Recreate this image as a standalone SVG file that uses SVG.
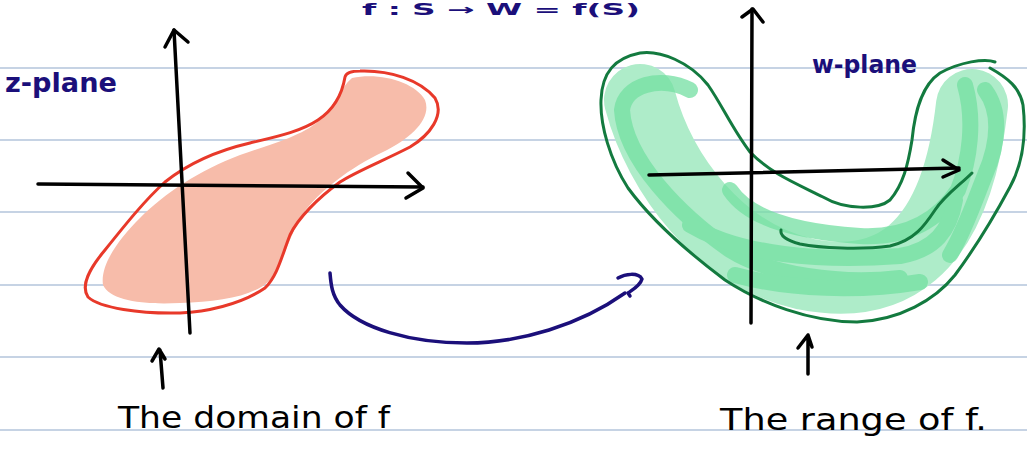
<svg xmlns="http://www.w3.org/2000/svg" width="1027" height="455" viewBox="0 0 1027 455">
<style>
.rule{stroke:#c6d3e4;stroke-width:2}
.ink{fill:none;stroke-linecap:round;stroke-linejoin:round}
.axis{stroke:#000;stroke-width:3.5}
.navy{stroke:#1b0f7a;stroke-width:3.5}
.hand{font-family:"DejaVu Sans","Liberation Sans",sans-serif;font-weight:bold}
.lbl{fill:#1b0f7a}
.cap{fill:#000;font-weight:normal}
</style>
<rect width="1027" height="455" fill="#fff"/>
<g id="rules">
<line class="rule" x1="0" y1="68" x2="1027" y2="68"/>
<line class="rule" x1="0" y1="140" x2="1027" y2="140"/>
<line class="rule" x1="0" y1="212" x2="1027" y2="212"/>
<line class="rule" x1="0" y1="285" x2="1027" y2="285"/>
<line class="rule" x1="0" y1="357" x2="1027" y2="357"/>
<line class="rule" x1="0" y1="430" x2="1027" y2="430"/>
</g>
<text id="title" class="hand lbl" x="362" y="15" font-size="15" textLength="278" lengthAdjust="spacingAndGlyphs">f : S → W = f(S)</text>
<g id="domain">
<path d="M352 78 C380 72 415 82 425 100 C432 118 412 138 383 152 C350 168 320 190 302 215 C290 235 285 258 270 280 C255 296 220 302 180 303 C140 305 110 300 103 285 C100 265 118 240 140 218 C165 193 200 170 240 155 C275 143 305 135 322 118 C335 105 340 88 352 78 Z" fill="#f7bcaa"/>
<path class="ink" d="M345 77 C346 73 350 71 360 71 C390 70 420 80 435 98 C445 115 430 135 410 147 C385 160 355 172 340 182 C318 198 298 218 290 235 C282 255 278 275 265 288 C240 305 205 312 180 313 C140 314 100 308 88 297 C80 285 90 268 105 250 C125 225 145 200 165 182 C190 162 220 150 250 143 C275 137 300 132 318 120 C333 110 342 95 345 77" stroke="#e8392a" stroke-width="3"/>
<g class="ink axis">
<path d="M174 30 L190 333"/>
<path d="M165 47 L174 30 L188 42"/>
<path d="M38 184 L423 187"/>
<path d="M408 173 L423 188 L406 198"/>
</g>
<text class="hand lbl" x="5" y="92" font-size="26" textLength="112" lengthAdjust="spacingAndGlyphs">z-plane</text>
</g>
<g id="range">
<path class="ink" d="M640 100 C660 175 720 255 805 274 C885 290 955 258 972 105" stroke="#aeecc9" stroke-width="72"/>
<g class="ink" stroke="#74e0a2" stroke-width="16" opacity="0.75">
<path d="M690 90 C660 75 625 85 622 110 C625 160 680 215 730 250 C770 275 840 285 900 278"/>
<path d="M730 190 C750 220 800 232 860 236 C900 238 935 225 958 190 C970 160 975 120 965 85"/>
<path d="M690 225 C740 255 820 262 900 256 C935 250 950 230 955 200"/>
<path d="M735 275 C790 290 860 292 920 282"/>
<path d="M985 90 C1000 110 1000 140 985 175 C975 200 965 230 950 255"/>
</g>
<path class="ink" d="M995 62 C985 58 960 62 940 73 C922 85 915 110 912 140 C908 165 903 185 890 200 C878 210 845 210 823 197 C795 183 770 173 750 152 C733 130 722 105 708 85 C690 62 660 50 640 53 C615 58 602 72 601 100 C600 125 610 160 628 188 C650 218 685 250 725 280 C760 303 810 322 857 322 C900 320 935 300 955 275 C975 248 995 215 1010 187 C1022 165 1027 140 1023 105 C1020 88 1008 78 990 68" stroke="#137a3f" stroke-width="3"/>
<path class="ink" d="M972 173 C960 185 945 195 935 210 C925 225 915 240 890 246 C860 250 820 248 800 244 C785 240 780 235 781 230" stroke="#137a3f" stroke-width="3"/>
<g class="ink axis">
<path d="M752 9 L751 323"/>
<path d="M742 17 L753 9 L763 22"/>
<path d="M649 175 L959 168"/>
<path d="M943 160 L959 170 L943 177"/>
</g>
<text class="hand lbl" x="812" y="73" font-size="24" textLength="105" lengthAdjust="spacingAndGlyphs">w-plane</text>
</g>
<g id="connectors">
<path class="ink navy" d="M330 273 C331 285 332 295 340 305 C360 328 410 343 467 343 C520 343 580 325 625 293"/>
<path class="ink navy" d="M618 278 C625 274 638 272 642 279 C640 286 632 290 628 293 L630 296"/>
<path class="ink axis" d="M160 350 L163 388 M152 361 L159 349 L165 359" stroke-width="3"/>
<path class="ink axis" d="M808 335 L808 374 M798 348 L808 335 L812 347" stroke-width="3"/>
</g>
<text id="domain-caption" class="hand cap" x="118" y="428" font-size="30" textLength="272" lengthAdjust="spacingAndGlyphs">The domain of f</text>
<text id="range-caption" class="hand cap" x="720" y="430" font-size="30" textLength="267" lengthAdjust="spacingAndGlyphs">The range of f.</text>
</svg>
